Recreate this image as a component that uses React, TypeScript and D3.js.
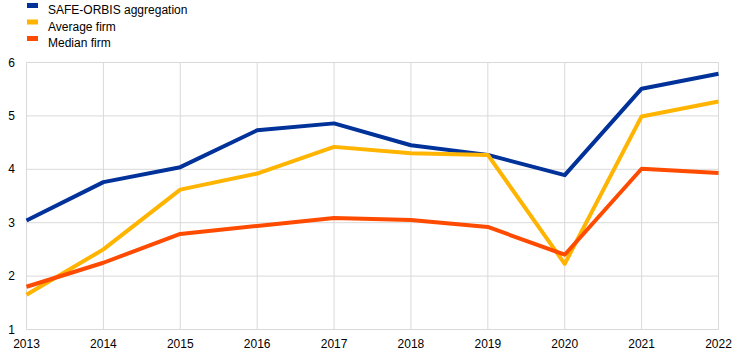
import React from "react";
import * as d3 from "d3";

const years = [2013, 2014, 2015, 2016, 2017, 2018, 2019, 2020, 2021, 2022];
const safeOrbis = [3.04, 3.76, 4.04, 4.73, 4.86, 4.45, 4.27, 3.89, 5.51, 5.79];
const averageFirm = [1.65, 2.5, 3.62, 3.92, 4.42, 4.3, 4.27, 2.23, 4.99, 5.27];
const medianFirm = [1.8, 2.25, 2.79, 2.94, 3.09, 3.05, 2.92, 2.4, 4.01, 3.93];
const yTicks = [1, 2, 3, 4, 5, 6];

const seriesNames = ["SAFE-ORBIS aggregation", "Average firm", "Median firm"];
const seriesColors = ["#003299", "#ffb400", "#ff4b00"];
const seriesData = [safeOrbis, averageFirm, medianFirm];

export default function App() {
  const W = 744, H = 355;
  const x = d3.scaleLinear().domain([2013, 2022]).range([26.5, 718.5]);
  const y = d3.scaleLinear().domain([1, 6]).range([329.5, 62.5]);
  const line = d3.line<number>().x((_, i) => x(years[i])).y((d) => y(d));
  const font = "'Liberation Sans', Arial, sans-serif";
  return (
    <svg width={W} height={H} style={{ position: "absolute", left: 0, top: 0 }} fontFamily={font}>
      {years.map((yr) => (
        <line key={"v" + yr} x1={x(yr)} x2={x(yr)} y1={y(6)} y2={y(1)} stroke="#d9d9d9" strokeWidth={1} />
      ))}
      {yTicks.map((t) => (
        <line key={"h" + t} x1={x(2013)} x2={x(2022)} y1={y(t)} y2={y(t)} stroke="#d9d9d9" strokeWidth={1} />
      ))}
      {yTicks.map((t) => (
        <text key={"yl" + t} x={15} y={y(t) + 4} textAnchor="end" fontSize={12} fill="#000">{t}</text>
      ))}
      {years.map((yr) => (
        <text key={"xl" + yr} x={x(yr)} y={348} textAnchor="middle" fontSize={12} fill="#000">{yr}</text>
      ))}
      {seriesData.map((d, i) => (
        <path key={"s" + i} d={line(d) || ""} fill="none" stroke={seriesColors[i]} strokeWidth={4} strokeLinejoin="round" />
      ))}
      {seriesNames.map((n, i) => (
        <g key={"lg" + i}>
          <rect x={27} y={3 + i * 16.5} width={11} height={5} fill={seriesColors[i]} />
          <text x={48} y={14 + i * 16.5} fontSize={12} fill="#000">{n}</text>
        </g>
      ))}
    </svg>
  );
}
